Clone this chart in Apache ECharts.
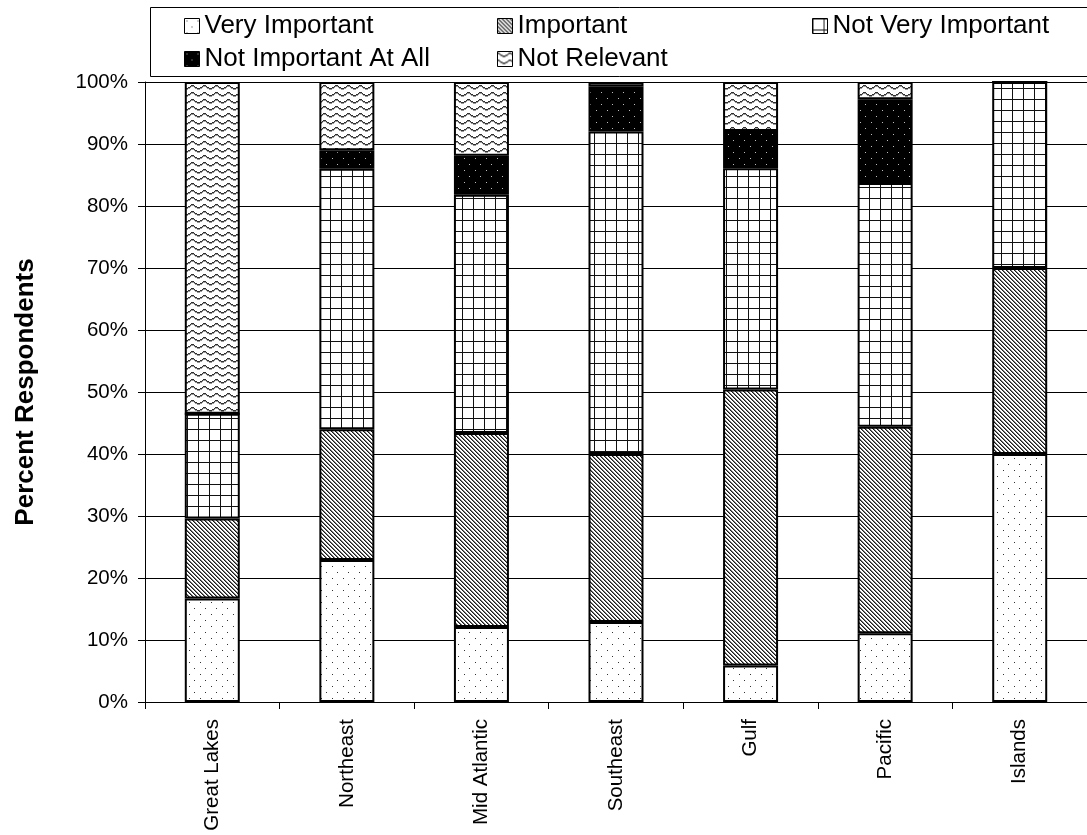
<!DOCTYPE html>
<html>
<head>
<meta charset="utf-8">
<script src="https://cdn.jsdelivr.net/npm/echarts@6/dist/echarts.min.js"></script>
<style>
  html, body { margin: 0; padding: 0; background: #fff; }
  #chart { width: 1087px; height: 835px; }
</style>
</head>
<body>
<div id="chart"></div>
<script>
// Regions surveyed
const categories = ['Great Lakes', 'Northeast', 'Mid Atlantic', 'Southeast', 'Gulf', 'Pacific', 'Islands'];

// Percent of respondents per answer, bottom to top of each stack
const veryImportant      = [16.7, 22.9, 12.1, 12.9,  5.9, 11.1, 40.0];
const important          = [12.9, 21.1, 31.3, 27.1, 44.5, 33.3, 30.0];
const notVeryImportant   = [16.9, 42.0, 38.4, 52.0, 35.7, 39.3, 30.0];
const notImportantAtAll  = [ 0.0,  3.0,  6.3,  7.3,  6.0, 13.5,  0.0];
const notRelevant        = [53.5, 11.0, 11.9,  0.7,  7.9,  2.8,  0.0];

const seriesNames = ['Very Important', 'Important', 'Not Very Important', 'Not Important At All', 'Not Relevant'];
const yTicks = [0, 10, 20, 30, 40, 50, 60, 70, 80, 90, 100];

// ---- fill patterns, built pixel by pixel on small tiles ----
function tile(w, h, bg, paint) {
  const c = document.createElement('canvas');
  c.width = w; c.height = h;
  const g = c.getContext('2d');
  g.fillStyle = bg;
  g.fillRect(0, 0, w, h);
  paint((x, y, col) => { g.fillStyle = col; g.fillRect(x, y, 1, 1); });
  return { image: c, repeat: 'repeat' };
}

const dotted = tile(11, 12, '#ffffff', px => {
  px(2, 2, '#333'); px(7, 8, '#333');
});
const diagonal = tile(4, 4, '#ffffff', px => {
  for (let y = 0; y < 4; y++) for (let x = 0; x < 4; x++) {
    const d = ((x - y) % 4 + 4) % 4;
    if (d === 0) px(x, y, '#1a1a1a');
    else if (d === 1) px(x, y, '#7a7a7a');
  }
});
const grid = tile(11, 11, '#ffffff', px => {
  for (let i = 0; i < 11; i++) { px(0, i, '#111'); px(i, 0, '#111'); }
});
const darkDots = tile(11, 12, '#000000', px => {
  px(2, 2, '#bdbdbd'); px(7, 8, '#bdbdbd');
});
const wavy = tile(12, 7, '#ffffff', px => {
  for (let x = 0; x < 12; x++) {
    const y = Math.round(2.5 - 1.6 * Math.cos(2 * Math.PI * x / 12));
    px(x, y, '#2e2e2e');
    px(x, y + 1, '#9a9a9a');
  }
});

const fills = [dotted, diagonal, grid, darkDots, wavy];
const values = [veryImportant, important, notVeryImportant, notImportantAtAll, notRelevant];

const FONT = "'Liberation Sans', Arial, sans-serif";

const chart = echarts.init(document.getElementById('chart'), null, { renderer: 'canvas' });

const legendBase = {
  orient: 'vertical',
  top: 13,
  padding: 0,
  itemGap: 7,
  itemWidth: 15,
  itemHeight: 15,
  icon: 'rect',
  selectedMode: false,
  itemStyle: { borderWidth: 1, borderColor: '#000' },
  textStyle: { fontFamily: FONT, fontSize: 26, color: '#000' }
};

chart.setOption({
  animation: false,
  backgroundColor: '#ffffff',
  graphic: [{
    type: 'rect',
    shape: { x: 150.5, y: 7.5, width: 1000, height: 69 },
    style: { fill: 'none', stroke: '#000', lineWidth: 1 },
    z: 100
  }],
  legend: [
    Object.assign({}, legendBase, { left: 184, data: [seriesNames[0], seriesNames[3]] }),
    Object.assign({}, legendBase, { left: 497, data: [seriesNames[1], seriesNames[4]] }),
    Object.assign({}, legendBase, { left: 812, data: [seriesNames[2]] })
  ],
  grid: { left: 145, right: -5.5, top: 82, bottom: 133, containLabel: false },
  xAxis: {
    type: 'category',
    data: categories,
    boundaryGap: true,
    axisLine: { show: true, lineStyle: { color: '#000', width: 1 } },
    axisTick: { show: true, length: 7, lineStyle: { color: '#000' } },
    axisLabel: { rotate: 90, margin: 17, fontFamily: FONT, fontSize: 20.5, color: '#000' },
    splitLine: { show: false }
  },
  yAxis: {
    type: 'value',
    min: 0,
    max: 100,
    interval: 10,
    name: 'Percent Respondents',
    nameLocation: 'middle',
    nameGap: 106,
    nameTextStyle: { fontFamily: FONT, fontSize: 26, fontWeight: 'bold', color: '#000' },
    axisLine: { show: true, lineStyle: { color: '#000', width: 1 } },
    axisTick: { show: true, inside: false, length: 7, lineStyle: { color: '#000' } },
    axisLabel: {
      margin: 17, fontFamily: FONT, fontSize: 20.5, color: '#000',
      formatter: v => (yTicks.indexOf(v) >= 0 ? v + '%' : '')
    },
    splitLine: { show: true, lineStyle: { color: '#000', width: 1 } }
  },
  series: seriesNames.map((name, i) => ({
    name: name,
    type: 'bar',
    stack: 'total',
    barWidth: 55,
    data: values[i],
    itemStyle: { color: fills[i], borderColor: '#000', borderWidth: 2 },
    emphasis: { disabled: true }
  }))
});
</script>
</body>
</html>
